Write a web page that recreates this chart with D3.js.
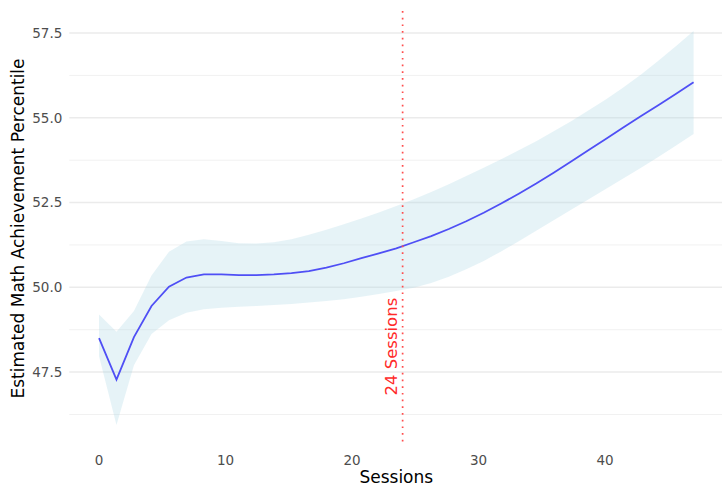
<!DOCTYPE html>
<html>
<head>
<meta charset="utf-8">
<script src="https://cdn.jsdelivr.net/npm/d3@7"></script>
<style>
  body { margin: 0; background: #fff; }
  svg text { font-family: "DejaVu Sans", sans-serif; }
</style>
</head>
<body>
<script>
// model estimates
var sessions = [0, 1.38, 2.76, 4.15, 5.53, 6.91, 8.29, 9.68, 11.06, 12.44, 13.82, 15.21, 16.59, 17.97, 19.35,
                20.74, 22.12, 23.5, 24.88, 26.26, 27.65, 29.03, 30.41, 31.79, 33.18, 34.56, 35.94, 37.32,
                38.71, 40.09, 41.47, 42.85, 44.24, 45.62, 47];
var fit = [48.50, 47.28, 48.53, 49.45, 50.02, 50.29, 50.38, 50.38, 50.36, 50.36, 50.38, 50.42, 50.48, 50.58, 50.71,
           50.86, 51.00, 51.15, 51.33, 51.51, 51.72, 51.95, 52.20, 52.47, 52.76, 53.06, 53.38, 53.71,
           54.05, 54.38, 54.72, 55.05, 55.38, 55.71, 56.05];
var upper = [49.20, 48.69, 49.30, 50.35, 51.05, 51.35, 51.42, 51.37, 51.30, 51.29, 51.33, 51.42, 51.55, 51.70, 51.86,
             52.03, 52.21, 52.40, 52.60, 52.81, 53.04, 53.28, 53.53, 53.78, 54.04, 54.31, 54.60, 54.90,
             55.22, 55.55, 55.90, 56.28, 56.69, 57.12, 57.56];
var lower = [47.97, 45.94, 47.70, 48.62, 49.03, 49.25, 49.35, 49.40, 49.43, 49.45, 49.48, 49.51, 49.55, 49.60, 49.65,
             49.72, 49.80, 49.89, 49.99, 50.13, 50.31, 50.53, 50.78, 51.06, 51.36, 51.67, 51.98, 52.29,
             52.60, 52.91, 53.22, 53.53, 53.85, 54.18, 54.52];

var xTicks = [0, 10, 20, 30, 40];
var yTicks = [47.5, 50, 52.5, 55, 57.5];
var yMinor = [46.25, 48.75, 51.25, 53.75, 56.25];
var cutoff = 24;
var cutoffLabel = "24 Sessions";

var width = 722, height = 487;
var panel = {left: 69.3, right: 723.3, top: 11, bottom: 446};

var data = sessions.map(function(s, i) { return {s: s, fit: fit[i], lo: lower[i], hi: upper[i]}; });

var x = d3.scaleLinear()
    .domain([-2.35, 49.35])
    .range([panel.left, panel.right]);

var y = d3.scaleLinear()
    .domain([45.32, 58.15])
    .range([panel.bottom, panel.top]);

var svg = d3.select("body").append("svg")
    .attr("width", width)
    .attr("height", height);

// grid
svg.append("g").selectAll("line.minor")
    .data(yMinor)
    .enter().append("line")
    .attr("class", "minor")
    .attr("x1", panel.left).attr("x2", panel.right)
    .attr("y1", function(d) { return y(d); })
    .attr("y2", function(d) { return y(d); })
    .attr("stroke", "#f1f1f1")
    .attr("stroke-width", 1);

svg.append("g").selectAll("line.major")
    .data(yTicks)
    .enter().append("line")
    .attr("class", "major")
    .attr("x1", panel.left).attr("x2", panel.right)
    .attr("y1", function(d) { return y(d); })
    .attr("y2", function(d) { return y(d); })
    .attr("stroke", "#ebebeb")
    .attr("stroke-width", 1.5);

// confidence ribbon
var area = d3.area()
    .x(function(d) { return x(d.s); })
    .y0(function(d) { return y(d.lo); })
    .y1(function(d) { return y(d.hi); });

svg.append("path")
    .datum(data)
    .attr("d", area)
    .attr("fill", "lightblue")
    .attr("fill-opacity", 0.3);

// fitted line
var line = d3.line()
    .x(function(d) { return x(d.s); })
    .y(function(d) { return y(d.fit); });

svg.append("path")
    .datum(data)
    .attr("d", line)
    .attr("fill", "none")
    .attr("stroke", "#4f4ff5")
    .attr("stroke-width", 1.8);

// cutoff line
svg.append("line")
    .attr("x1", x(cutoff)).attr("x2", x(cutoff))
    .attr("y1", panel.top).attr("y2", panel.bottom)
    .attr("stroke", "#ff4d4d")
    .attr("stroke-width", 1.7)
    .attr("stroke-dasharray", "1.7,5");

svg.append("text")
    .attr("transform", "translate(" + (x(cutoff) - 6) + "," + y(48.25) + ") rotate(-90)")
    .attr("text-anchor", "middle")
    .attr("fill", "#ff2a2a")
    .attr("font-size", "16.5px")
    .text(cutoffLabel);

// axes text
svg.append("g").selectAll("text.xt")
    .data(xTicks)
    .enter().append("text")
    .attr("class", "xt")
    .attr("x", function(d) { return x(d); })
    .attr("y", panel.bottom + 19)
    .attr("text-anchor", "middle")
    .attr("fill", "#4d4d4d")
    .attr("font-size", "13.5px")
    .text(function(d) { return d; });

svg.append("g").selectAll("text.yt")
    .data(yTicks)
    .enter().append("text")
    .attr("class", "yt")
    .attr("x", panel.left - 7)
    .attr("y", function(d) { return y(d); })
    .attr("dy", "0.36em")
    .attr("text-anchor", "end")
    .attr("fill", "#4d4d4d")
    .attr("font-size", "13.5px")
    .text(function(d) { return d3.format(".1f")(d); });

svg.append("text")
    .attr("x", (panel.left + panel.right) / 2)
    .attr("y", height - 4)
    .attr("text-anchor", "middle")
    .attr("fill", "#000")
    .attr("font-size", "17px")
    .text("Sessions");

svg.append("text")
    .attr("transform", "translate(24," + (panel.top + panel.bottom) / 2 + ") rotate(-90)")
    .attr("text-anchor", "middle")
    .attr("fill", "#000")
    .attr("font-size", "17px")
    .text("Estimated Math Achievement Percentile");
</script>
</body>
</html>
